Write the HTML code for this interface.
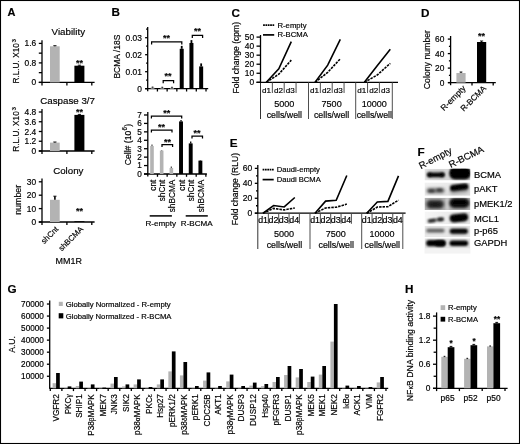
<!DOCTYPE html>
<html lang="en"><head><meta charset="utf-8"><title>Figure</title>
<style>html,body{margin:0;padding:0;background:#fff;}svg{display:block;}text{font-family:"Liberation Sans", sans-serif;fill:#000;stroke:#000;stroke-width:0.18px;}</style></head><body>
<svg width="520" height="444" viewBox="0 0 520 444">
<defs><filter id="b1" x="-30%" y="-60%" width="160%" height="220%"><feGaussianBlur stdDeviation="1.1"/></filter><filter id="b2" x="-30%" y="-60%" width="160%" height="220%"><feGaussianBlur stdDeviation="1.6"/></filter><filter id="b3" x="-30%" y="-60%" width="160%" height="220%"><feGaussianBlur stdDeviation="0.7"/></filter><filter id="b5" x="-5%" y="-5%" width="110%" height="110%"><feGaussianBlur stdDeviation="0.45"/></filter><filter id="b4" x="-30%" y="-60%" width="160%" height="220%"><feGaussianBlur stdDeviation="0.85"/></filter></defs>
<rect x="0.00" y="0.00" width="520.00" height="444.00" fill="#fff" />
<rect x="0.5" y="0.5" width="519" height="443" fill="none" stroke="#000" stroke-width="1.1"/>
<text transform="translate(7.40 16.20) scale(0.94 1)" font-size="11.7" text-anchor="start" font-weight="bold" stroke-width="0">A</text>
<text transform="translate(111.60 16.30)" font-size="11.7" text-anchor="start" font-weight="bold" stroke-width="0">B</text>
<text transform="translate(231.60 16.50)" font-size="11.7" text-anchor="start" font-weight="bold" stroke-width="0">C</text>
<text transform="translate(421.10 16.50)" font-size="11.7" text-anchor="start" font-weight="bold" stroke-width="0">D</text>
<text transform="translate(229.70 147.20)" font-size="11.7" text-anchor="start" font-weight="bold" stroke-width="0">E</text>
<text transform="translate(417.60 155.60)" font-size="11.7" text-anchor="start" font-weight="bold" stroke-width="0">F</text>
<text transform="translate(7.40 293.10)" font-size="11.7" text-anchor="start" font-weight="bold" stroke-width="0">G</text>
<text transform="translate(405.10 293.10)" font-size="11.7" text-anchor="start" font-weight="bold" stroke-width="0">H</text>
<text transform="translate(68.30 35.00) scale(0.985 1)" font-size="9.9" text-anchor="middle" font-weight="normal" >Viability</text>
<line x1="42.00" y1="40.20" x2="42.00" y2="85.40" stroke="#000" stroke-width="1.3" />
<line x1="38.80" y1="82.40" x2="94.60" y2="82.40" stroke="#000" stroke-width="1.3" />
<line x1="38.80" y1="43.40" x2="42.00" y2="43.40" stroke="#000" stroke-width="1.3" />
<text transform="translate(36.20 46.40)" font-size="8.4" text-anchor="end" font-weight="normal" >1.6</text>
<line x1="38.80" y1="53.15" x2="42.00" y2="53.15" stroke="#000" stroke-width="1.3" />
<line x1="38.80" y1="62.90" x2="42.00" y2="62.90" stroke="#000" stroke-width="1.3" />
<text transform="translate(36.20 65.90)" font-size="8.4" text-anchor="end" font-weight="normal" >0.8</text>
<line x1="38.80" y1="72.65" x2="42.00" y2="72.65" stroke="#000" stroke-width="1.3" />
<line x1="38.80" y1="82.40" x2="42.00" y2="82.40" stroke="#000" stroke-width="1.3" />
<text transform="translate(36.20 85.40)" font-size="8.4" text-anchor="end" font-weight="normal" >0</text>
<line x1="66.90" y1="82.40" x2="66.90" y2="85.40" stroke="#000" stroke-width="1.3" />
<line x1="91.80" y1="82.40" x2="91.80" y2="85.40" stroke="#000" stroke-width="1.3" />
<rect x="50.00" y="46.30" width="9.70" height="36.10" fill="#b3b3b3" />
<rect x="74.40" y="65.70" width="10.00" height="16.70" fill="#000" />
<line x1="54.90" y1="46.30" x2="54.90" y2="45.70" stroke="#000" stroke-width="1" />
<line x1="53.30" y1="45.70" x2="56.50" y2="45.70" stroke="#000" stroke-width="0.9" />
<line x1="79.40" y1="65.70" x2="79.40" y2="65.20" stroke="#000" stroke-width="1" />
<line x1="77.80" y1="65.20" x2="81.00" y2="65.20" stroke="#000" stroke-width="0.9" />
<text transform="translate(79.60 66.08)" font-size="9" text-anchor="middle" font-weight="bold" stroke="#000" stroke-width="0.35">**</text>
<text transform="translate(19.20 83.60) rotate(-90) scale(0.847 1)" font-size="9.8" text-anchor="start" font-weight="normal" >R.L.U. X10</text>
<text transform="translate(15.50 42.40) rotate(-90)" font-size="6.2" text-anchor="start" font-weight="normal" >3</text>
<text transform="translate(67.60 103.80) scale(0.985 1)" font-size="9.9" text-anchor="middle" font-weight="normal" >Caspase 3/7</text>
<line x1="42.00" y1="109.00" x2="42.00" y2="154.00" stroke="#000" stroke-width="1.3" />
<line x1="38.80" y1="151.00" x2="94.60" y2="151.00" stroke="#000" stroke-width="1.3" />
<line x1="38.80" y1="112.00" x2="42.00" y2="112.00" stroke="#000" stroke-width="1.3" />
<text transform="translate(36.20 115.00)" font-size="8.4" text-anchor="end" font-weight="normal" >4.8</text>
<line x1="38.80" y1="121.75" x2="42.00" y2="121.75" stroke="#000" stroke-width="1.3" />
<text transform="translate(36.20 124.75)" font-size="8.4" text-anchor="end" font-weight="normal" >3.6</text>
<line x1="38.80" y1="131.50" x2="42.00" y2="131.50" stroke="#000" stroke-width="1.3" />
<text transform="translate(36.20 134.50)" font-size="8.4" text-anchor="end" font-weight="normal" >2.4</text>
<line x1="38.80" y1="141.25" x2="42.00" y2="141.25" stroke="#000" stroke-width="1.3" />
<text transform="translate(36.20 144.25)" font-size="8.4" text-anchor="end" font-weight="normal" >1.2</text>
<line x1="38.80" y1="151.00" x2="42.00" y2="151.00" stroke="#000" stroke-width="1.3" />
<text transform="translate(36.20 154.00)" font-size="8.4" text-anchor="end" font-weight="normal" >0</text>
<line x1="66.90" y1="151.00" x2="66.90" y2="154.00" stroke="#000" stroke-width="1.3" />
<line x1="91.80" y1="151.00" x2="91.80" y2="154.00" stroke="#000" stroke-width="1.3" />
<rect x="50.00" y="142.60" width="9.70" height="8.40" fill="#b3b3b3" />
<rect x="74.40" y="114.90" width="10.00" height="36.10" fill="#000" />
<line x1="54.90" y1="142.60" x2="54.90" y2="142.00" stroke="#000" stroke-width="1" />
<line x1="53.30" y1="142.00" x2="56.50" y2="142.00" stroke="#000" stroke-width="0.9" />
<line x1="79.40" y1="114.90" x2="79.40" y2="114.40" stroke="#000" stroke-width="1" />
<line x1="77.80" y1="114.40" x2="81.00" y2="114.40" stroke="#000" stroke-width="0.9" />
<text transform="translate(79.60 114.78)" font-size="9" text-anchor="middle" font-weight="bold" stroke="#000" stroke-width="0.35">**</text>
<text transform="translate(19.20 151.80) rotate(-90) scale(0.847 1)" font-size="9.8" text-anchor="start" font-weight="normal" >R.L.U. X10</text>
<text transform="translate(15.50 110.60) rotate(-90)" font-size="6.2" text-anchor="start" font-weight="normal" >3</text>
<text transform="translate(68.30 173.50) scale(0.985 1)" font-size="9.9" text-anchor="middle" font-weight="normal" >Colony</text>
<line x1="42.00" y1="178.50" x2="42.00" y2="225.00" stroke="#000" stroke-width="1.3" />
<line x1="38.80" y1="222.00" x2="94.60" y2="222.00" stroke="#000" stroke-width="1.3" />
<line x1="38.80" y1="181.80" x2="42.00" y2="181.80" stroke="#000" stroke-width="1.3" />
<text transform="translate(36.20 184.80)" font-size="8.4" text-anchor="end" font-weight="normal" >30</text>
<line x1="38.80" y1="195.20" x2="42.00" y2="195.20" stroke="#000" stroke-width="1.3" />
<text transform="translate(36.20 198.20)" font-size="8.4" text-anchor="end" font-weight="normal" >20</text>
<line x1="38.80" y1="208.60" x2="42.00" y2="208.60" stroke="#000" stroke-width="1.3" />
<text transform="translate(36.20 211.60)" font-size="8.4" text-anchor="end" font-weight="normal" >10</text>
<line x1="38.80" y1="222.00" x2="42.00" y2="222.00" stroke="#000" stroke-width="1.3" />
<text transform="translate(36.20 225.00)" font-size="8.4" text-anchor="end" font-weight="normal" >0</text>
<line x1="66.90" y1="222.00" x2="66.90" y2="225.00" stroke="#000" stroke-width="1.3" />
<line x1="91.80" y1="222.00" x2="91.80" y2="225.00" stroke="#000" stroke-width="1.3" />
<rect x="50.00" y="199.80" width="9.70" height="22.20" fill="#b3b3b3" />
<rect x="74.40" y="221.20" width="10.00" height="0.80" fill="#000" />
<line x1="54.90" y1="199.80" x2="54.90" y2="196.20" stroke="#000" stroke-width="1.6" />
<line x1="53.30" y1="196.20" x2="56.50" y2="196.20" stroke="#000" stroke-width="0.9" />
<text transform="translate(79.60 214.49)" font-size="9" text-anchor="middle" font-weight="bold" stroke="#000" stroke-width="0.35">**</text>
<text transform="translate(20.80 214.80) rotate(-90) scale(0.9413 1)" font-size="9.4" text-anchor="start" font-weight="normal" >number</text>
<text transform="translate(58.90 229.60) rotate(-45)" font-size="7.9" text-anchor="end" font-weight="normal" >shCnt</text>
<text transform="translate(83.70 229.60) rotate(-45)" font-size="7.9" text-anchor="end" font-weight="normal" >shBCMA</text>
<text transform="translate(68.70 264.10) scale(0.9438 1)" font-size="9.5" text-anchor="middle" font-weight="normal" >MM1R</text>
<line x1="147.70" y1="27.00" x2="147.70" y2="91.30" stroke="#000" stroke-width="1.3" />
<line x1="145.10" y1="88.70" x2="208.20" y2="88.70" stroke="#000" stroke-width="1.3" />
<line x1="145.10" y1="88.70" x2="147.70" y2="88.70" stroke="#000" stroke-width="1.3" />
<line x1="146.10" y1="80.20" x2="147.70" y2="80.20" stroke="#000" stroke-width="1.3" />
<line x1="145.10" y1="71.70" x2="147.70" y2="71.70" stroke="#000" stroke-width="1.3" />
<line x1="146.10" y1="63.20" x2="147.70" y2="63.20" stroke="#000" stroke-width="1.3" />
<line x1="145.10" y1="54.70" x2="147.70" y2="54.70" stroke="#000" stroke-width="1.3" />
<line x1="146.10" y1="46.20" x2="147.70" y2="46.20" stroke="#000" stroke-width="1.3" />
<line x1="145.10" y1="37.70" x2="147.70" y2="37.70" stroke="#000" stroke-width="1.3" />
<line x1="146.10" y1="29.20" x2="147.70" y2="29.20" stroke="#000" stroke-width="1.3" />
<text transform="translate(141.80 91.70)" font-size="8.4" text-anchor="end" font-weight="normal" >0</text>
<text transform="translate(141.80 74.70)" font-size="8.4" text-anchor="end" font-weight="normal" >0.01</text>
<text transform="translate(141.80 57.70)" font-size="8.4" text-anchor="end" font-weight="normal" >0.02</text>
<text transform="translate(141.80 40.70)" font-size="8.4" text-anchor="end" font-weight="normal" >0.03</text>
<line x1="157.42" y1="88.70" x2="157.42" y2="91.50" stroke="#000" stroke-width="1.3" />
<line x1="167.14" y1="88.70" x2="167.14" y2="91.50" stroke="#000" stroke-width="1.3" />
<line x1="176.86" y1="88.70" x2="176.86" y2="91.50" stroke="#000" stroke-width="1.3" />
<line x1="186.58" y1="88.70" x2="186.58" y2="91.50" stroke="#000" stroke-width="1.3" />
<line x1="196.30" y1="88.70" x2="196.30" y2="91.50" stroke="#000" stroke-width="1.3" />
<line x1="206.02" y1="88.70" x2="206.02" y2="91.50" stroke="#000" stroke-width="1.3" />
<rect x="150.66" y="87.50" width="3.80" height="1.20" fill="#b3b3b3" />
<line x1="152.56" y1="87.90" x2="152.56" y2="86.50" stroke="#3a3a3a" stroke-width="1.7" />
<rect x="160.38" y="87.70" width="3.80" height="1.00" fill="#b3b3b3" />
<line x1="162.28" y1="88.10" x2="162.28" y2="86.70" stroke="#3a3a3a" stroke-width="1.7" />
<rect x="170.10" y="87.80" width="3.80" height="0.90" fill="#b3b3b3" />
<line x1="172.00" y1="88.20" x2="172.00" y2="86.80" stroke="#3a3a3a" stroke-width="1.7" />
<rect x="179.72" y="48.80" width="4.00" height="39.90" fill="#000" />
<line x1="181.72" y1="48.80" x2="181.72" y2="45.90" stroke="#000" stroke-width="1.8" />
<rect x="189.44" y="43.00" width="4.00" height="45.70" fill="#000" />
<line x1="191.44" y1="43.00" x2="191.44" y2="40.10" stroke="#000" stroke-width="1.8" />
<rect x="199.16" y="66.40" width="4.00" height="22.30" fill="#000" />
<line x1="201.16" y1="66.40" x2="201.16" y2="63.40" stroke="#000" stroke-width="1.8" />
<path d="M151.60 44.40 V41.90 H181.80 V44.40" fill="none" stroke="#000" stroke-width="1.25"/>
<text transform="translate(166.60 41.19)" font-size="9" text-anchor="middle" font-weight="bold" stroke="#000" stroke-width="0.35">**</text>
<path d="M163.20 83.20 V80.70 H173.60 V83.20" fill="none" stroke="#000" stroke-width="1.25"/>
<text transform="translate(168.00 79.39)" font-size="9" text-anchor="middle" font-weight="bold" stroke="#000" stroke-width="0.35">**</text>
<path d="M192.30 37.90 V35.40 H202.60 V37.90" fill="none" stroke="#000" stroke-width="1.25"/>
<text transform="translate(197.40 34.38)" font-size="9" text-anchor="middle" font-weight="bold" stroke="#000" stroke-width="0.35">**</text>
<text transform="translate(119.80 78.60) rotate(-90) scale(0.9564 1)" font-size="8.9" text-anchor="start" font-weight="normal" >BCMA /18S</text>
<line x1="147.80" y1="112.00" x2="147.80" y2="176.60" stroke="#000" stroke-width="1.3" />
<line x1="144.00" y1="174.00" x2="206.90" y2="174.00" stroke="#000" stroke-width="1.3" />
<line x1="144.00" y1="174.00" x2="147.80" y2="174.00" stroke="#000" stroke-width="1.3" />
<text transform="translate(141.70 176.90)" font-size="8.2" text-anchor="end" font-weight="normal" >0</text>
<line x1="144.00" y1="165.57" x2="147.80" y2="165.57" stroke="#000" stroke-width="1.3" />
<text transform="translate(141.70 168.47)" font-size="8.2" text-anchor="end" font-weight="normal" >1</text>
<line x1="144.00" y1="157.14" x2="147.80" y2="157.14" stroke="#000" stroke-width="1.3" />
<text transform="translate(141.70 160.04)" font-size="8.2" text-anchor="end" font-weight="normal" >2</text>
<line x1="144.00" y1="148.71" x2="147.80" y2="148.71" stroke="#000" stroke-width="1.3" />
<text transform="translate(141.70 151.61)" font-size="8.2" text-anchor="end" font-weight="normal" >3</text>
<line x1="144.00" y1="140.28" x2="147.80" y2="140.28" stroke="#000" stroke-width="1.3" />
<text transform="translate(141.70 143.18)" font-size="8.2" text-anchor="end" font-weight="normal" >4</text>
<line x1="144.00" y1="131.85" x2="147.80" y2="131.85" stroke="#000" stroke-width="1.3" />
<text transform="translate(141.70 134.75)" font-size="8.2" text-anchor="end" font-weight="normal" >5</text>
<line x1="144.00" y1="123.42" x2="147.80" y2="123.42" stroke="#000" stroke-width="1.3" />
<text transform="translate(141.70 126.32)" font-size="8.2" text-anchor="end" font-weight="normal" >6</text>
<line x1="144.00" y1="114.99" x2="147.80" y2="114.99" stroke="#000" stroke-width="1.3" />
<text transform="translate(141.70 117.89)" font-size="8.2" text-anchor="end" font-weight="normal" >7</text>
<line x1="157.48" y1="174.00" x2="157.48" y2="176.80" stroke="#000" stroke-width="1.3" />
<line x1="167.16" y1="174.00" x2="167.16" y2="176.80" stroke="#000" stroke-width="1.3" />
<line x1="176.84" y1="174.00" x2="176.84" y2="176.80" stroke="#000" stroke-width="1.3" />
<line x1="186.52" y1="174.00" x2="186.52" y2="176.80" stroke="#000" stroke-width="1.3" />
<line x1="196.20" y1="174.00" x2="196.20" y2="176.80" stroke="#000" stroke-width="1.3" />
<line x1="205.88" y1="174.00" x2="205.88" y2="176.80" stroke="#000" stroke-width="1.3" />
<rect x="150.19" y="146.00" width="3.60" height="28.00" fill="#b3b3b3" />
<line x1="151.99" y1="146.00" x2="151.99" y2="144.50" stroke="#555" stroke-width="1.3" />
<rect x="159.87" y="150.60" width="3.60" height="23.40" fill="#b3b3b3" />
<line x1="161.67" y1="150.60" x2="161.67" y2="150.00" stroke="#555" stroke-width="1.3" />
<rect x="169.55" y="168.00" width="3.60" height="6.00" fill="#b3b3b3" />
<line x1="171.35" y1="168.00" x2="171.35" y2="166.40" stroke="#555" stroke-width="1.3" />
<rect x="179.08" y="121.40" width="3.90" height="52.60" fill="#000" />
<line x1="181.03" y1="121.40" x2="181.03" y2="120.00" stroke="#000" stroke-width="1.3" />
<rect x="188.76" y="143.40" width="3.90" height="30.60" fill="#000" />
<line x1="190.71" y1="143.40" x2="190.71" y2="141.40" stroke="#000" stroke-width="1.3" />
<rect x="198.44" y="160.60" width="3.90" height="13.40" fill="#000" />
<line x1="200.39" y1="160.60" x2="200.39" y2="160.20" stroke="#000" stroke-width="1.3" />
<path d="M151.40 118.50 V116.00 H181.70 V118.50" fill="none" stroke="#000" stroke-width="1.25"/>
<text transform="translate(166.80 115.78)" font-size="9" text-anchor="middle" font-weight="bold" stroke="#000" stroke-width="0.35">**</text>
<path d="M151.40 132.50 V130.00 H172.00 V132.50" fill="none" stroke="#000" stroke-width="1.25"/>
<text transform="translate(161.40 129.98)" font-size="9" text-anchor="middle" font-weight="bold" stroke="#000" stroke-width="0.35">**</text>
<path d="M162.00 147.10 V144.60 H172.60 V147.10" fill="none" stroke="#000" stroke-width="1.25"/>
<text transform="translate(167.60 145.19)" font-size="9" text-anchor="middle" font-weight="bold" stroke="#000" stroke-width="0.35">**</text>
<path d="M192.00 138.50 V136.00 H202.50 V138.50" fill="none" stroke="#000" stroke-width="1.25"/>
<text transform="translate(197.00 136.38)" font-size="9" text-anchor="middle" font-weight="bold" stroke="#000" stroke-width="0.35">**</text>
<text transform="translate(131.30 165.30) rotate(-90) scale(0.9296 1)" font-size="9.3" text-anchor="start" font-weight="normal" >Cell# (10</text>
<text transform="translate(127.30 130.60) rotate(-90)" font-size="6.3" text-anchor="start" font-weight="normal" >6</text>
<text transform="translate(131.30 126.70) rotate(-90) scale(0.9296 1)" font-size="9.3" text-anchor="start" font-weight="normal" >)</text>
<text transform="translate(155.64 179.60) rotate(-90)" font-size="8.3" text-anchor="end" font-weight="normal" >cnt</text>
<text transform="translate(165.32 179.60) rotate(-90)" font-size="8.3" text-anchor="end" font-weight="normal" >shCnt</text>
<text transform="translate(175.00 179.60) rotate(-90)" font-size="8.3" text-anchor="end" font-weight="normal" >shBCMA</text>
<text transform="translate(184.68 179.60) rotate(-90)" font-size="8.3" text-anchor="end" font-weight="normal" >cnt</text>
<text transform="translate(194.36 179.60) rotate(-90)" font-size="8.3" text-anchor="end" font-weight="normal" >shCnt</text>
<text transform="translate(204.04 179.60) rotate(-90)" font-size="8.3" text-anchor="end" font-weight="normal" >shBCMA</text>
<line x1="149.70" y1="215.90" x2="171.90" y2="215.90" stroke="#000" stroke-width="1.5" />
<line x1="185.70" y1="215.90" x2="207.80" y2="215.90" stroke="#000" stroke-width="1.5" />
<text transform="translate(160.80 226.20)" font-size="8.1" text-anchor="middle" font-weight="normal" >R-empty</text>
<text transform="translate(196.80 226.20)" font-size="8.1" text-anchor="middle" font-weight="normal" >R-BCMA</text>
<line x1="260.50" y1="35.00" x2="260.50" y2="82.30" stroke="#000" stroke-width="1.3" />
<line x1="260.50" y1="82.30" x2="260.50" y2="119.00" stroke="#333" stroke-width="1.0" />
<line x1="256.50" y1="82.30" x2="398.00" y2="82.30" stroke="#000" stroke-width="1.3" />
<line x1="256.50" y1="82.30" x2="260.50" y2="82.30" stroke="#000" stroke-width="1.3" />
<text transform="translate(254.10 85.30)" font-size="8.4" text-anchor="end" font-weight="normal" >0</text>
<line x1="256.50" y1="73.26" x2="260.50" y2="73.26" stroke="#000" stroke-width="1.3" />
<text transform="translate(254.10 76.26)" font-size="8.4" text-anchor="end" font-weight="normal" >10</text>
<line x1="256.50" y1="64.22" x2="260.50" y2="64.22" stroke="#000" stroke-width="1.3" />
<text transform="translate(254.10 67.22)" font-size="8.4" text-anchor="end" font-weight="normal" >20</text>
<line x1="256.50" y1="55.18" x2="260.50" y2="55.18" stroke="#000" stroke-width="1.3" />
<text transform="translate(254.10 58.18)" font-size="8.4" text-anchor="end" font-weight="normal" >30</text>
<line x1="256.50" y1="46.14" x2="260.50" y2="46.14" stroke="#000" stroke-width="1.3" />
<text transform="translate(254.10 49.14)" font-size="8.4" text-anchor="end" font-weight="normal" >40</text>
<line x1="256.50" y1="37.10" x2="260.50" y2="37.10" stroke="#000" stroke-width="1.3" />
<text transform="translate(254.10 40.10)" font-size="8.4" text-anchor="end" font-weight="normal" >50</text>
<line x1="272.35" y1="82.30" x2="272.35" y2="93.00" stroke="#444" stroke-width="0.95" />
<line x1="284.20" y1="82.30" x2="284.20" y2="93.00" stroke="#444" stroke-width="0.95" />
<line x1="296.05" y1="82.30" x2="296.05" y2="93.00" stroke="#444" stroke-width="0.95" />
<text transform="translate(266.62 92.50)" font-size="8.1" text-anchor="middle" font-weight="normal" >d1</text>
<text transform="translate(278.48 92.50)" font-size="8.1" text-anchor="middle" font-weight="normal" >d2</text>
<text transform="translate(290.32 92.50)" font-size="8.1" text-anchor="middle" font-weight="normal" >d3</text>
<polyline points="266.30,82.30 278.80,68.74 291.30,41.62" fill="none" stroke="#000" stroke-width="1.6" stroke-linejoin="miter"/>
<polyline points="266.30,82.30 278.80,74.16 291.30,60.15" fill="none" stroke="#000" stroke-width="1.6" stroke-linejoin="miter" stroke-dasharray="2.5 1.0"/>
<text transform="translate(284.30 106.50) scale(0.9361 1)" font-size="9.7" text-anchor="middle" font-weight="normal" >5000</text>
<text transform="translate(284.30 117.60) scale(1.0054 1)" font-size="8.8" text-anchor="middle" font-weight="normal" >cells/well</text>
<line x1="308.50" y1="82.30" x2="308.50" y2="119.00" stroke="#444" stroke-width="0.95" />
<line x1="320.35" y1="82.30" x2="320.35" y2="93.00" stroke="#444" stroke-width="0.95" />
<line x1="332.20" y1="82.30" x2="332.20" y2="93.00" stroke="#444" stroke-width="0.95" />
<line x1="344.05" y1="82.30" x2="344.05" y2="93.00" stroke="#444" stroke-width="0.95" />
<text transform="translate(314.62 92.50)" font-size="8.1" text-anchor="middle" font-weight="normal" >d1</text>
<text transform="translate(326.48 92.50)" font-size="8.1" text-anchor="middle" font-weight="normal" >d2</text>
<text transform="translate(338.32 92.50)" font-size="8.1" text-anchor="middle" font-weight="normal" >d3</text>
<polyline points="315.10,82.30 327.70,65.12 340.30,39.36" fill="none" stroke="#000" stroke-width="1.6" stroke-linejoin="miter"/>
<polyline points="315.10,82.30 327.70,72.36 340.30,58.80" fill="none" stroke="#000" stroke-width="1.6" stroke-linejoin="miter" stroke-dasharray="2.5 1.0"/>
<text transform="translate(331.60 106.50) scale(0.9361 1)" font-size="9.7" text-anchor="middle" font-weight="normal" >7500</text>
<text transform="translate(331.60 117.60) scale(1.0054 1)" font-size="8.8" text-anchor="middle" font-weight="normal" >cells/well</text>
<line x1="355.70" y1="82.30" x2="355.70" y2="119.00" stroke="#444" stroke-width="0.95" />
<line x1="367.55" y1="82.30" x2="367.55" y2="93.00" stroke="#444" stroke-width="0.95" />
<line x1="379.40" y1="82.30" x2="379.40" y2="93.00" stroke="#444" stroke-width="0.95" />
<text transform="translate(361.82 92.50)" font-size="8.1" text-anchor="middle" font-weight="normal" >d1</text>
<text transform="translate(373.68 92.50)" font-size="8.1" text-anchor="middle" font-weight="normal" >d2</text>
<text transform="translate(385.52 92.50)" font-size="8.1" text-anchor="middle" font-weight="normal" >d3</text>
<polyline points="364.40,82.30 377.20,65.85 390.30,49.30" fill="none" stroke="#000" stroke-width="1.6" stroke-linejoin="miter"/>
<polyline points="364.40,82.30 377.20,75.07 390.30,63.32" fill="none" stroke="#000" stroke-width="1.6" stroke-linejoin="miter" stroke-dasharray="2.5 1.0"/>
<text transform="translate(374.30 106.50) scale(0.9342 1)" font-size="9.7" text-anchor="middle" font-weight="normal" >10000</text>
<text transform="translate(374.30 117.60) scale(1.0054 1)" font-size="8.8" text-anchor="middle" font-weight="normal" >cells/well</text>
<line x1="392.30" y1="82.30" x2="392.30" y2="119.00" stroke="#444" stroke-width="0.95" />
<line x1="263.10" y1="25.10" x2="274.20" y2="25.10" stroke="#000" stroke-width="1.7" stroke-dasharray="1.75 0.6"/>
<line x1="263.00" y1="34.90" x2="274.20" y2="34.90" stroke="#000" stroke-width="1.7" />
<text transform="translate(277.50 27.70)" font-size="7.7" text-anchor="start" font-weight="normal" >R-empty</text>
<text transform="translate(277.50 37.30)" font-size="7.7" text-anchor="start" font-weight="normal" >R-BCMA</text>
<text transform="translate(239.40 93.40) rotate(-90) scale(0.8946 1)" font-size="9.6" text-anchor="start" font-weight="normal" >Fold change (cpm)</text>
<line x1="257.80" y1="165.00" x2="257.80" y2="213.20" stroke="#000" stroke-width="1.3" />
<line x1="257.80" y1="213.20" x2="257.80" y2="249.00" stroke="#333" stroke-width="1.0" />
<line x1="254.80" y1="213.20" x2="405.60" y2="213.20" stroke="#000" stroke-width="1.3" />
<line x1="254.80" y1="213.20" x2="257.80" y2="213.20" stroke="#000" stroke-width="1.3" />
<text transform="translate(252.20 216.20)" font-size="8.5" text-anchor="end" font-weight="normal" >0</text>
<line x1="256.00" y1="205.73" x2="257.80" y2="205.73" stroke="#000" stroke-width="1.3" />
<line x1="254.80" y1="198.26" x2="257.80" y2="198.26" stroke="#000" stroke-width="1.3" />
<text transform="translate(252.20 201.26)" font-size="8.5" text-anchor="end" font-weight="normal" >20</text>
<line x1="256.00" y1="190.79" x2="257.80" y2="190.79" stroke="#000" stroke-width="1.3" />
<line x1="254.80" y1="183.32" x2="257.80" y2="183.32" stroke="#000" stroke-width="1.3" />
<text transform="translate(252.20 186.32)" font-size="8.5" text-anchor="end" font-weight="normal" >40</text>
<line x1="256.00" y1="175.85" x2="257.80" y2="175.85" stroke="#000" stroke-width="1.3" />
<line x1="254.80" y1="168.38" x2="257.80" y2="168.38" stroke="#000" stroke-width="1.3" />
<text transform="translate(252.20 171.38)" font-size="8.5" text-anchor="end" font-weight="normal" >60</text>
<line x1="268.35" y1="213.20" x2="268.35" y2="223.80" stroke="#444" stroke-width="0.95" />
<line x1="278.70" y1="213.20" x2="278.70" y2="223.80" stroke="#444" stroke-width="0.95" />
<line x1="289.05" y1="213.20" x2="289.05" y2="223.80" stroke="#444" stroke-width="0.95" />
<line x1="299.40" y1="213.20" x2="299.40" y2="223.80" stroke="#444" stroke-width="0.95" />
<text transform="translate(263.07 223.40) scale(1.07 1)" font-size="8.3" text-anchor="middle" font-weight="normal" >d1</text>
<text transform="translate(273.43 223.40) scale(1.07 1)" font-size="8.3" text-anchor="middle" font-weight="normal" >d2</text>
<text transform="translate(283.77 223.40) scale(1.07 1)" font-size="8.3" text-anchor="middle" font-weight="normal" >d3</text>
<text transform="translate(294.12 223.40) scale(1.07 1)" font-size="8.3" text-anchor="middle" font-weight="normal" >d4</text>
<polyline points="263.00,213.20 273.60,205.51 284.20,206.93 294.80,197.51" fill="none" stroke="#000" stroke-width="1.6" stroke-linejoin="miter"/>
<polyline points="263.00,213.20 273.60,208.42 284.20,209.91 294.80,207.97" fill="none" stroke="#000" stroke-width="1.6" stroke-linejoin="miter" stroke-dasharray="2.5 1.0"/>
<text transform="translate(284.00 237.00) scale(0.9558 1)" font-size="9.5" text-anchor="middle" font-weight="normal" >5000</text>
<text transform="translate(284.40 248.40) scale(1.0111 1)" font-size="8.8" text-anchor="middle" font-weight="normal" >cells/well</text>
<line x1="310.00" y1="213.20" x2="310.00" y2="249.00" stroke="#444" stroke-width="0.95" />
<line x1="320.35" y1="213.20" x2="320.35" y2="223.80" stroke="#444" stroke-width="0.95" />
<line x1="330.70" y1="213.20" x2="330.70" y2="223.80" stroke="#444" stroke-width="0.95" />
<line x1="341.05" y1="213.20" x2="341.05" y2="223.80" stroke="#444" stroke-width="0.95" />
<line x1="351.40" y1="213.20" x2="351.40" y2="223.80" stroke="#444" stroke-width="0.95" />
<text transform="translate(315.07 223.40) scale(1.07 1)" font-size="8.3" text-anchor="middle" font-weight="normal" >d1</text>
<text transform="translate(325.43 223.40) scale(1.07 1)" font-size="8.3" text-anchor="middle" font-weight="normal" >d2</text>
<text transform="translate(335.77 223.40) scale(1.07 1)" font-size="8.3" text-anchor="middle" font-weight="normal" >d3</text>
<text transform="translate(346.12 223.40) scale(1.07 1)" font-size="8.3" text-anchor="middle" font-weight="normal" >d4</text>
<polyline points="315.00,213.20 325.60,201.10 336.20,200.20 346.80,175.48" fill="none" stroke="#000" stroke-width="1.6" stroke-linejoin="miter"/>
<polyline points="315.00,213.20 325.60,207.97 336.20,207.22 346.80,204.09" fill="none" stroke="#000" stroke-width="1.6" stroke-linejoin="miter" stroke-dasharray="2.5 1.0"/>
<text transform="translate(335.80 237.00) scale(0.9558 1)" font-size="9.5" text-anchor="middle" font-weight="normal" >7500</text>
<text transform="translate(336.20 248.40) scale(1.0111 1)" font-size="8.8" text-anchor="middle" font-weight="normal" >cells/well</text>
<line x1="361.70" y1="213.20" x2="361.70" y2="249.00" stroke="#444" stroke-width="0.95" />
<line x1="372.05" y1="213.20" x2="372.05" y2="223.80" stroke="#444" stroke-width="0.95" />
<line x1="382.40" y1="213.20" x2="382.40" y2="223.80" stroke="#444" stroke-width="0.95" />
<line x1="392.75" y1="213.20" x2="392.75" y2="223.80" stroke="#444" stroke-width="0.95" />
<text transform="translate(366.77 223.40) scale(1.07 1)" font-size="8.3" text-anchor="middle" font-weight="normal" >d1</text>
<text transform="translate(377.12 223.40) scale(1.07 1)" font-size="8.3" text-anchor="middle" font-weight="normal" >d2</text>
<text transform="translate(387.47 223.40) scale(1.07 1)" font-size="8.3" text-anchor="middle" font-weight="normal" >d3</text>
<text transform="translate(397.82 223.40) scale(1.07 1)" font-size="8.3" text-anchor="middle" font-weight="normal" >d4</text>
<polyline points="366.70,213.20 377.30,201.99 387.90,201.40 398.50,175.85" fill="none" stroke="#000" stroke-width="1.6" stroke-linejoin="miter"/>
<polyline points="366.70,213.20 377.30,207.07 387.90,206.70 398.50,200.13" fill="none" stroke="#000" stroke-width="1.6" stroke-linejoin="miter" stroke-dasharray="2.5 1.0"/>
<text transform="translate(381.90 237.00) scale(0.9463 1)" font-size="9.5" text-anchor="middle" font-weight="normal" >10000</text>
<text transform="translate(382.30 248.40) scale(1.0111 1)" font-size="8.8" text-anchor="middle" font-weight="normal" >cells/well</text>
<line x1="402.80" y1="213.20" x2="402.80" y2="249.00" stroke="#444" stroke-width="0.95" />
<line x1="262.60" y1="169.70" x2="273.70" y2="169.70" stroke="#000" stroke-width="1.7" stroke-dasharray="1.75 0.6"/>
<line x1="262.60" y1="179.60" x2="273.70" y2="179.60" stroke="#000" stroke-width="1.7" />
<text transform="translate(276.80 172.00)" font-size="7.6" text-anchor="start" font-weight="normal" >Daudi-empty</text>
<text transform="translate(276.80 182.00)" font-size="7.6" text-anchor="start" font-weight="normal" >Daudi BCMA</text>
<text transform="translate(237.70 225.20) rotate(-90) scale(0.8927 1)" font-size="9.6" text-anchor="start" font-weight="normal" >Fold change (RLU)</text>
<line x1="450.60" y1="36.00" x2="450.60" y2="85.20" stroke="#000" stroke-width="1.3" />
<line x1="448.00" y1="82.60" x2="495.80" y2="82.60" stroke="#000" stroke-width="1.3" />
<line x1="447.80" y1="82.60" x2="450.60" y2="82.60" stroke="#000" stroke-width="1.3" />
<text transform="translate(444.40 85.70)" font-size="8.4" text-anchor="end" font-weight="normal" >0</text>
<line x1="448.90" y1="75.35" x2="450.60" y2="75.35" stroke="#000" stroke-width="1.3" />
<line x1="447.80" y1="68.10" x2="450.60" y2="68.10" stroke="#000" stroke-width="1.3" />
<text transform="translate(444.40 71.20)" font-size="8.4" text-anchor="end" font-weight="normal" >20</text>
<line x1="448.90" y1="60.85" x2="450.60" y2="60.85" stroke="#000" stroke-width="1.3" />
<line x1="447.80" y1="53.60" x2="450.60" y2="53.60" stroke="#000" stroke-width="1.3" />
<text transform="translate(444.40 56.70)" font-size="8.4" text-anchor="end" font-weight="normal" >40</text>
<line x1="448.90" y1="46.35" x2="450.60" y2="46.35" stroke="#000" stroke-width="1.3" />
<line x1="447.80" y1="39.10" x2="450.60" y2="39.10" stroke="#000" stroke-width="1.3" />
<text transform="translate(444.40 42.20)" font-size="8.4" text-anchor="end" font-weight="normal" >60</text>
<line x1="472.00" y1="82.60" x2="472.00" y2="85.40" stroke="#000" stroke-width="1.3" />
<line x1="493.20" y1="82.60" x2="493.20" y2="85.40" stroke="#000" stroke-width="1.3" />
<rect x="456.40" y="73.00" width="9.20" height="9.60" fill="#b3b3b3" />
<rect x="477.00" y="42.00" width="9.20" height="40.60" fill="#000" />
<line x1="461.00" y1="73.00" x2="461.00" y2="72.00" stroke="#000" stroke-width="1" />
<line x1="459.60" y1="72.00" x2="462.40" y2="72.00" stroke="#000" stroke-width="0.9" />
<line x1="481.60" y1="42.00" x2="481.60" y2="41.00" stroke="#000" stroke-width="1" />
<line x1="480.00" y1="41.00" x2="483.20" y2="41.00" stroke="#000" stroke-width="0.9" />
<text transform="translate(481.40 39.39)" font-size="9" text-anchor="middle" font-weight="bold" stroke="#000" stroke-width="0.35">**</text>
<text transform="translate(430.10 89.20) rotate(-90) scale(0.9303 1)" font-size="9.4" text-anchor="start" font-weight="normal" >Colony number</text>
<text transform="translate(466.30 88.80) rotate(-45)" font-size="8.4" text-anchor="end" font-weight="normal" >R-empty</text>
<text transform="translate(486.70 89.00) rotate(-45)" font-size="8.2" text-anchor="end" font-weight="normal" >R-BCMA</text>
<defs>
<clipPath id="row0"><rect x="424.5" y="168.8" width="45.90" height="11.60"/></clipPath>
<clipPath id="row1"><rect x="424.5" y="182.4" width="45.90" height="13.40"/></clipPath>
<clipPath id="row2"><rect x="424.5" y="197.8" width="45.90" height="12.20"/></clipPath>
<clipPath id="row3"><rect x="424.5" y="211.4" width="45.90" height="12.80"/></clipPath>
<clipPath id="row4"><rect x="424.5" y="225.8" width="45.90" height="11.40"/></clipPath>
<clipPath id="row5"><rect x="424.5" y="238.3" width="45.90" height="10.50"/></clipPath>
<linearGradient id="rg0" x1="0" x2="1" y1="0" y2="0"><stop offset="0" stop-color="#e4e4e4"/><stop offset="0.5" stop-color="#d6d6d6"/><stop offset="1" stop-color="#c8c8c8"/></linearGradient>
<linearGradient id="rg3" x1="0" x2="1" y1="0" y2="0"><stop offset="0" stop-color="#f6f6f6"/><stop offset="0.5" stop-color="#ececec"/><stop offset="1" stop-color="#e2e2e2"/></linearGradient>
<linearGradient id="rg1" x1="0" x2="1" y1="0" y2="1"><stop offset="0" stop-color="#f2f2f2"/><stop offset="1" stop-color="#d8d8d8"/></linearGradient>
</defs>
<g filter="url(#b5)">
<rect x="424.50" y="248.80" width="45.90" height="4.80" fill="#f3f3f3" />
<g clip-path="url(#row0)">
<rect x="424.50" y="168.80" width="45.90" height="11.60" fill="url(#rg0)" />
<rect x="427.20" y="172.70" width="17.40" height="4.20" rx="2.10" fill="#000" opacity="1.0" filter="url(#b4)"/>
<rect x="426.40" y="171.05" width="19.00" height="7.50" rx="3.75" fill="#000" opacity="0.18" filter="url(#b2)"/>
<rect x="427.40" y="172.50" width="4.40" height="4.60" rx="2.20" fill="#000" opacity="0.7" filter="url(#b4)"/>
<rect x="440.00" y="172.50" width="4.40" height="4.60" rx="2.20" fill="#000" opacity="0.7" filter="url(#b4)"/>
<rect x="449.20" y="167.80" width="21.60" height="11.60" rx="5.80" fill="#000" opacity="1.0" filter="url(#b4)"/>
<rect x="450.70" y="167.60" width="18.60" height="6.00" rx="3.00" fill="#000" opacity="1.0" filter="url(#b4)"/>
</g>
<g clip-path="url(#row1)">
<rect x="424.50" y="182.40" width="45.90" height="13.40" fill="url(#rg1)" />
<rect x="426.60" y="187.90" width="18.00" height="5.40" rx="2.70" fill="#000" opacity="0.5" filter="url(#b2)"/>
<rect x="428.15" y="189.40" width="6.50" height="3.20" rx="1.60" fill="#000" opacity="0.55" filter="url(#b1)"/>
<rect x="436.60" y="188.50" width="6.00" height="3.00" rx="1.50" fill="#000" opacity="0.55" filter="url(#b1)"/>
<rect x="450.00" y="184.10" width="18.40" height="6.40" rx="3.20" fill="#000" opacity="1.0" filter="url(#b4)" transform="rotate(-7 459.2 187.3)"/>
<rect x="449.70" y="186.70" width="19.00" height="7.00" rx="3.50" fill="#000" opacity="0.25" filter="url(#b2)" transform="rotate(-7 459.2 190.2)"/>
</g>
<g clip-path="url(#row2)">
<rect x="424.50" y="197.80" width="45.90" height="12.20" fill="#b2b2b2" />
<rect x="445.90" y="197.00" width="3.00" height="14.00" rx="1.50" fill="#fff" opacity="0.35" filter="url(#b1)"/>
<rect x="426.45" y="200.00" width="17.50" height="8.40" rx="4.20" fill="#000" opacity="0.72" filter="url(#b2)"/>
<rect x="429.20" y="202.40" width="12.00" height="4.40" rx="2.20" fill="#000" opacity="0.5" filter="url(#b2)"/>
<rect x="449.40" y="198.40" width="20.00" height="9.60" rx="4.80" fill="#000" opacity="0.9" filter="url(#b2)"/>
<rect x="451.40" y="199.60" width="16.00" height="6.00" rx="3.00" fill="#000" opacity="0.8" filter="url(#b2)"/>
</g>
<g clip-path="url(#row3)">
<rect x="424.50" y="211.40" width="45.90" height="12.80" fill="url(#rg3)" />
<rect x="427.50" y="218.90" width="8.60" height="3.60" rx="1.80" fill="#000" opacity="0.72" filter="url(#b4)" transform="rotate(-8 431.8 220.7)"/>
<rect x="437.20" y="217.40" width="6.80" height="3.80" rx="1.90" fill="#000" opacity="0.78" filter="url(#b4)" transform="rotate(-4 440.6 219.3)"/>
<rect x="428.50" y="218.80" width="15.00" height="2.40" rx="1.20" fill="#000" opacity="0.5" filter="url(#b4)" transform="rotate(-8 436.0 220.0)"/>
<rect x="449.60" y="213.70" width="18.60" height="8.20" rx="4.10" fill="#000" opacity="1.0" filter="url(#b4)" transform="rotate(-6 458.9 217.8)"/>
</g>
<g clip-path="url(#row4)">
<rect x="424.50" y="225.80" width="45.90" height="11.40" fill="#e7e7e7" />
<rect x="426.15" y="228.80" width="18.50" height="3.80" rx="1.90" fill="#000" opacity="0.5" filter="url(#b2)"/>
<rect x="426.90" y="229.60" width="17.00" height="2.20" rx="1.10" fill="#000" opacity="0.3" filter="url(#b1)"/>
<rect x="449.30" y="227.90" width="19.00" height="6.60" rx="3.30" fill="#000" opacity="0.35" filter="url(#b2)"/>
<rect x="450.00" y="228.90" width="17.60" height="4.60" rx="2.30" fill="#000" opacity="1.0" filter="url(#b4)"/>
</g>
<g clip-path="url(#row5)">
<rect x="424.50" y="238.30" width="45.90" height="10.50" fill="#e4e4e4" />
<rect x="426.20" y="240.10" width="19.60" height="6.20" rx="3.10" fill="#000" opacity="1.0" filter="url(#b4)"/>
<rect x="435.00" y="240.60" width="10.00" height="6.00" rx="3.00" fill="#000" opacity="0.8" filter="url(#b4)"/>
<rect x="449.50" y="240.50" width="18.60" height="5.40" rx="2.70" fill="#000" opacity="1.0" filter="url(#b4)"/>
</g>
</g>
<text transform="translate(474.00 178.20)" font-size="9.4" text-anchor="start" font-weight="normal" >BCMA</text>
<text transform="translate(474.00 191.80)" font-size="9.4" text-anchor="start" font-weight="normal" >pAKT</text>
<text transform="translate(474.00 207.20)" font-size="9.4" text-anchor="start" font-weight="normal" >pMEK1/2</text>
<text transform="translate(474.00 222.20)" font-size="9.4" text-anchor="start" font-weight="normal" >MCL1</text>
<text transform="translate(474.00 234.20)" font-size="9.4" text-anchor="start" font-weight="normal" >p-p65</text>
<text transform="translate(474.00 246.20)" font-size="9.4" text-anchor="start" font-weight="normal" >GAPDH</text>
<text transform="translate(420.90 169.30) rotate(-27.5)" font-size="9.5" text-anchor="start" font-weight="normal" stroke="#000" stroke-width="0.6">R-empty</text>
<text transform="translate(450.80 168.00) rotate(-26)" font-size="9.5" text-anchor="start" font-weight="normal" stroke="#000" stroke-width="0.6">R-BCMA</text>
<line x1="49.70" y1="300.50" x2="49.70" y2="388.30" stroke="#000" stroke-width="1.3" />
<line x1="49.20" y1="388.30" x2="388.20" y2="388.30" stroke="#000" stroke-width="1.3" />
<line x1="46.90" y1="376.26" x2="49.70" y2="376.26" stroke="#000" stroke-width="1.3" />
<text transform="translate(43.90 379.26)" font-size="8.2" text-anchor="end" font-weight="normal" >10000</text>
<line x1="46.90" y1="364.22" x2="49.70" y2="364.22" stroke="#000" stroke-width="1.3" />
<text transform="translate(43.90 367.22)" font-size="8.2" text-anchor="end" font-weight="normal" >20000</text>
<line x1="46.90" y1="352.18" x2="49.70" y2="352.18" stroke="#000" stroke-width="1.3" />
<text transform="translate(43.90 355.18)" font-size="8.2" text-anchor="end" font-weight="normal" >30000</text>
<line x1="46.90" y1="340.14" x2="49.70" y2="340.14" stroke="#000" stroke-width="1.3" />
<text transform="translate(43.90 343.14)" font-size="8.2" text-anchor="end" font-weight="normal" >40000</text>
<line x1="46.90" y1="328.10" x2="49.70" y2="328.10" stroke="#000" stroke-width="1.3" />
<text transform="translate(43.90 331.10)" font-size="8.2" text-anchor="end" font-weight="normal" >50000</text>
<line x1="46.90" y1="316.06" x2="49.70" y2="316.06" stroke="#000" stroke-width="1.3" />
<text transform="translate(43.90 319.06)" font-size="8.2" text-anchor="end" font-weight="normal" >60000</text>
<line x1="46.90" y1="304.02" x2="49.70" y2="304.02" stroke="#000" stroke-width="1.3" />
<text transform="translate(43.90 307.02)" font-size="8.2" text-anchor="end" font-weight="normal" >70000</text>
<line x1="50.30" y1="388.30" x2="50.30" y2="391.10" stroke="#000" stroke-width="1.3" />
<rect x="52.60" y="383.20" width="3.50" height="5.10" fill="#b3b3b3" />
<rect x="56.10" y="373.00" width="3.70" height="15.30" fill="#000" />
<text transform="translate(59.20 394.20) rotate(-90)" font-size="8.2" text-anchor="end" font-weight="normal" >VGFR2</text>
<line x1="61.88" y1="388.30" x2="61.88" y2="391.10" stroke="#000" stroke-width="1.3" />
<rect x="64.17" y="387.60" width="3.50" height="0.70" fill="#cfcfcf" />
<rect x="67.67" y="386.40" width="3.70" height="1.90" fill="#000" />
<text transform="translate(70.78 394.20) rotate(-90)" font-size="8.2" text-anchor="end" font-weight="normal" >PKC<tspan font-size="6.6">γ</tspan></text>
<line x1="73.45" y1="388.30" x2="73.45" y2="391.10" stroke="#000" stroke-width="1.3" />
<rect x="75.75" y="386.00" width="3.50" height="2.30" fill="#b3b3b3" />
<rect x="79.25" y="381.60" width="3.70" height="6.70" fill="#000" />
<text transform="translate(82.35 394.20) rotate(-90)" font-size="8.2" text-anchor="end" font-weight="normal" >SHIP1</text>
<line x1="85.03" y1="388.30" x2="85.03" y2="391.10" stroke="#000" stroke-width="1.3" />
<rect x="87.33" y="387.20" width="3.50" height="1.10" fill="#cfcfcf" />
<rect x="90.83" y="384.40" width="3.70" height="3.90" fill="#000" />
<text transform="translate(93.93 394.20) rotate(-90)" font-size="8.2" text-anchor="end" font-weight="normal" >P38<tspan font-size="6.6">β</tspan>MAPK</text>
<line x1="96.60" y1="388.30" x2="96.60" y2="391.10" stroke="#000" stroke-width="1.3" />
<rect x="98.90" y="388.00" width="3.50" height="0.30" fill="#cfcfcf" />
<rect x="102.40" y="387.60" width="3.70" height="0.70" fill="#000" />
<text transform="translate(105.50 394.20) rotate(-90)" font-size="8.2" text-anchor="end" font-weight="normal" >MEK7</text>
<line x1="108.18" y1="388.30" x2="108.18" y2="391.10" stroke="#000" stroke-width="1.3" />
<rect x="110.48" y="383.60" width="3.50" height="4.70" fill="#b3b3b3" />
<rect x="113.98" y="377.00" width="3.70" height="11.30" fill="#000" />
<text transform="translate(117.08 394.20) rotate(-90)" font-size="8.2" text-anchor="end" font-weight="normal" >JNK3</text>
<line x1="119.75" y1="388.30" x2="119.75" y2="391.10" stroke="#000" stroke-width="1.3" />
<rect x="122.05" y="386.40" width="3.50" height="1.90" fill="#b3b3b3" />
<rect x="125.55" y="384.40" width="3.70" height="3.90" fill="#000" />
<text transform="translate(128.65 394.20) rotate(-90)" font-size="8.2" text-anchor="end" font-weight="normal" >SIK2</text>
<line x1="131.32" y1="388.30" x2="131.32" y2="391.10" stroke="#000" stroke-width="1.3" />
<rect x="133.62" y="384.40" width="3.50" height="3.90" fill="#b3b3b3" />
<rect x="137.12" y="379.40" width="3.70" height="8.90" fill="#000" />
<text transform="translate(140.22 394.20) rotate(-90)" font-size="8.2" text-anchor="end" font-weight="normal" >p38<tspan font-size="6.6">α</tspan>MAPK</text>
<line x1="142.90" y1="388.30" x2="142.90" y2="391.10" stroke="#000" stroke-width="1.3" />
<rect x="145.20" y="387.80" width="3.50" height="0.50" fill="#cfcfcf" />
<rect x="148.70" y="387.00" width="3.70" height="1.30" fill="#000" />
<text transform="translate(151.80 394.20) rotate(-90)" font-size="8.2" text-anchor="end" font-weight="normal" >PKC<tspan font-size="6.6">ε</tspan></text>
<line x1="154.47" y1="388.30" x2="154.47" y2="391.10" stroke="#000" stroke-width="1.3" />
<rect x="156.78" y="384.40" width="3.50" height="3.90" fill="#b3b3b3" />
<rect x="160.28" y="379.40" width="3.70" height="8.90" fill="#000" />
<text transform="translate(163.38 394.20) rotate(-90)" font-size="8.2" text-anchor="end" font-weight="normal" >Hsp27</text>
<line x1="166.05" y1="388.30" x2="166.05" y2="391.10" stroke="#000" stroke-width="1.3" />
<rect x="168.35" y="371.40" width="3.50" height="16.90" fill="#b3b3b3" />
<rect x="171.85" y="351.40" width="3.70" height="36.90" fill="#000" />
<text transform="translate(174.95 394.20) rotate(-90)" font-size="8.2" text-anchor="end" font-weight="normal" >pERK1/2</text>
<line x1="177.62" y1="388.30" x2="177.62" y2="391.10" stroke="#000" stroke-width="1.3" />
<rect x="179.93" y="375.40" width="3.50" height="12.90" fill="#b3b3b3" />
<rect x="183.43" y="362.00" width="3.70" height="26.30" fill="#000" />
<text transform="translate(186.53 394.20) rotate(-90)" font-size="8.2" text-anchor="end" font-weight="normal" >p38<tspan font-size="6.6">δ</tspan>MAPK</text>
<line x1="189.20" y1="388.30" x2="189.20" y2="391.10" stroke="#000" stroke-width="1.3" />
<rect x="191.50" y="387.60" width="3.50" height="0.70" fill="#cfcfcf" />
<rect x="195.00" y="386.00" width="3.70" height="2.30" fill="#000" />
<text transform="translate(198.10 394.20) rotate(-90)" font-size="8.2" text-anchor="end" font-weight="normal" >pERK1</text>
<line x1="200.78" y1="388.30" x2="200.78" y2="391.10" stroke="#000" stroke-width="1.3" />
<rect x="203.08" y="380.60" width="3.50" height="7.70" fill="#b3b3b3" />
<rect x="206.58" y="372.40" width="3.70" height="15.90" fill="#000" />
<text transform="translate(209.68 394.20) rotate(-90)" font-size="8.2" text-anchor="end" font-weight="normal" >CDC25B</text>
<line x1="212.35" y1="388.30" x2="212.35" y2="391.10" stroke="#000" stroke-width="1.3" />
<rect x="214.65" y="387.80" width="3.50" height="0.50" fill="#cfcfcf" />
<rect x="218.15" y="386.00" width="3.70" height="2.30" fill="#000" />
<text transform="translate(221.25 394.20) rotate(-90)" font-size="8.2" text-anchor="end" font-weight="normal" >AKT1</text>
<line x1="223.93" y1="388.30" x2="223.93" y2="391.10" stroke="#000" stroke-width="1.3" />
<rect x="226.23" y="381.40" width="3.50" height="6.90" fill="#b3b3b3" />
<rect x="229.73" y="374.60" width="3.70" height="13.70" fill="#000" />
<text transform="translate(232.83 394.20) rotate(-90)" font-size="8.2" text-anchor="end" font-weight="normal" >p38<tspan font-size="6.6">γ</tspan>MAPK</text>
<line x1="235.50" y1="388.30" x2="235.50" y2="391.10" stroke="#000" stroke-width="1.3" />
<rect x="237.80" y="387.80" width="3.50" height="0.50" fill="#cfcfcf" />
<rect x="241.30" y="386.00" width="3.70" height="2.30" fill="#000" />
<text transform="translate(244.40 394.20) rotate(-90)" font-size="8.2" text-anchor="end" font-weight="normal" >DUSP3</text>
<line x1="247.07" y1="388.30" x2="247.07" y2="391.10" stroke="#000" stroke-width="1.3" />
<rect x="249.38" y="385.60" width="3.50" height="2.70" fill="#b3b3b3" />
<rect x="252.88" y="382.60" width="3.70" height="5.70" fill="#000" />
<text transform="translate(255.97 394.20) rotate(-90)" font-size="8.2" text-anchor="end" font-weight="normal" >DUSP12</text>
<line x1="258.65" y1="388.30" x2="258.65" y2="391.10" stroke="#000" stroke-width="1.3" />
<rect x="260.95" y="386.20" width="3.50" height="2.10" fill="#b3b3b3" />
<rect x="264.45" y="384.00" width="3.70" height="4.30" fill="#000" />
<text transform="translate(267.55 394.20) rotate(-90)" font-size="8.2" text-anchor="end" font-weight="normal" >Hsp40</text>
<line x1="270.22" y1="388.30" x2="270.22" y2="391.10" stroke="#000" stroke-width="1.3" />
<rect x="272.52" y="382.00" width="3.50" height="6.30" fill="#b3b3b3" />
<rect x="276.02" y="377.00" width="3.70" height="11.30" fill="#000" />
<text transform="translate(279.12 394.20) rotate(-90)" font-size="8.2" text-anchor="end" font-weight="normal" >pFGFR3</text>
<line x1="281.80" y1="388.30" x2="281.80" y2="391.10" stroke="#000" stroke-width="1.3" />
<rect x="284.10" y="375.00" width="3.50" height="13.30" fill="#b3b3b3" />
<rect x="287.60" y="366.00" width="3.70" height="22.30" fill="#000" />
<text transform="translate(290.70 394.20) rotate(-90)" font-size="8.2" text-anchor="end" font-weight="normal" >DUSP1</text>
<line x1="293.38" y1="388.30" x2="293.38" y2="391.10" stroke="#000" stroke-width="1.3" />
<rect x="295.68" y="377.40" width="3.50" height="10.90" fill="#b3b3b3" />
<rect x="299.18" y="369.00" width="3.70" height="19.30" fill="#000" />
<text transform="translate(302.27 394.20) rotate(-90)" font-size="8.2" text-anchor="end" font-weight="normal" >p38<tspan font-size="6.6">β</tspan>MAPK</text>
<line x1="304.95" y1="388.30" x2="304.95" y2="391.10" stroke="#000" stroke-width="1.3" />
<rect x="307.25" y="382.00" width="3.50" height="6.30" fill="#b3b3b3" />
<rect x="310.75" y="376.60" width="3.70" height="11.70" fill="#000" />
<text transform="translate(313.85 394.20) rotate(-90)" font-size="8.2" text-anchor="end" font-weight="normal" >MEK5</text>
<line x1="316.52" y1="388.30" x2="316.52" y2="391.10" stroke="#000" stroke-width="1.3" />
<rect x="318.82" y="374.60" width="3.50" height="13.70" fill="#b3b3b3" />
<rect x="322.32" y="366.00" width="3.70" height="22.30" fill="#000" />
<text transform="translate(325.42 394.20) rotate(-90)" font-size="8.2" text-anchor="end" font-weight="normal" >MEK1</text>
<line x1="328.10" y1="388.30" x2="328.10" y2="391.10" stroke="#000" stroke-width="1.3" />
<rect x="330.40" y="341.60" width="3.50" height="46.70" fill="#b3b3b3" />
<rect x="333.90" y="304.00" width="3.70" height="84.30" fill="#000" />
<text transform="translate(337.00 394.20) rotate(-90)" font-size="8.2" text-anchor="end" font-weight="normal" >NEK2</text>
<line x1="339.68" y1="388.30" x2="339.68" y2="391.10" stroke="#000" stroke-width="1.3" />
<rect x="341.98" y="387.60" width="3.50" height="0.70" fill="#cfcfcf" />
<rect x="345.48" y="385.60" width="3.70" height="2.70" fill="#000" />
<text transform="translate(348.57 394.20) rotate(-90)" font-size="8.2" text-anchor="end" font-weight="normal" >I<tspan font-size="6.6">κ</tspan>B<tspan font-size="6.6">α</tspan></text>
<line x1="351.25" y1="388.30" x2="351.25" y2="391.10" stroke="#000" stroke-width="1.3" />
<rect x="353.55" y="387.80" width="3.50" height="0.50" fill="#cfcfcf" />
<rect x="357.05" y="386.00" width="3.70" height="2.30" fill="#000" />
<text transform="translate(360.15 394.20) rotate(-90)" font-size="8.2" text-anchor="end" font-weight="normal" >ACK1</text>
<line x1="362.82" y1="388.30" x2="362.82" y2="391.10" stroke="#000" stroke-width="1.3" />
<rect x="365.12" y="388.00" width="3.50" height="0.30" fill="#cfcfcf" />
<rect x="368.62" y="387.00" width="3.70" height="1.30" fill="#000" />
<text transform="translate(371.72 394.20) rotate(-90)" font-size="8.2" text-anchor="end" font-weight="normal" >VIM</text>
<line x1="374.40" y1="388.30" x2="374.40" y2="391.10" stroke="#000" stroke-width="1.3" />
<rect x="376.70" y="382.40" width="3.50" height="5.90" fill="#b3b3b3" />
<rect x="380.20" y="377.00" width="3.70" height="11.30" fill="#000" />
<text transform="translate(383.30 394.20) rotate(-90)" font-size="8.2" text-anchor="end" font-weight="normal" >FGFR2</text>
<line x1="385.97" y1="388.30" x2="385.97" y2="391.10" stroke="#000" stroke-width="1.3" />
<text transform="translate(15.20 352.80) rotate(-90)" font-size="8.6" text-anchor="start" font-weight="normal" >A.U.</text>
<rect x="58.80" y="301.80" width="4.00" height="4.20" fill="#b3b3b3" />
<rect x="58.70" y="313.20" width="4.60" height="5.20" fill="#000" />
<text transform="translate(65.70 306.50) scale(0.9781 1)" font-size="7.9" text-anchor="start" font-weight="normal" >Globally Normalized - R-empty</text>
<text transform="translate(65.70 318.50) scale(0.9736 1)" font-size="7.9" text-anchor="start" font-weight="normal" >Globally Normalized - R-BCMA</text>
<line x1="436.60" y1="312.40" x2="436.60" y2="391.10" stroke="#000" stroke-width="1.3" />
<line x1="433.00" y1="388.30" x2="507.60" y2="388.30" stroke="#000" stroke-width="1.3" />
<line x1="433.00" y1="388.30" x2="436.60" y2="388.30" stroke="#000" stroke-width="1.3" />
<line x1="433.60" y1="376.27" x2="436.60" y2="376.27" stroke="#000" stroke-width="1.3" />
<line x1="433.00" y1="364.24" x2="436.60" y2="364.24" stroke="#000" stroke-width="1.3" />
<line x1="433.60" y1="352.21" x2="436.60" y2="352.21" stroke="#000" stroke-width="1.3" />
<line x1="433.00" y1="340.18" x2="436.60" y2="340.18" stroke="#000" stroke-width="1.3" />
<line x1="433.60" y1="328.15" x2="436.60" y2="328.15" stroke="#000" stroke-width="1.3" />
<line x1="433.00" y1="316.12" x2="436.60" y2="316.12" stroke="#000" stroke-width="1.3" />
<text transform="translate(430.40 391.30)" font-size="8.4" text-anchor="end" font-weight="normal" >0</text>
<text transform="translate(430.40 367.24)" font-size="8.4" text-anchor="end" font-weight="normal" >0.6</text>
<text transform="translate(430.40 343.18)" font-size="8.4" text-anchor="end" font-weight="normal" >1.2</text>
<text transform="translate(430.40 319.12)" font-size="8.4" text-anchor="end" font-weight="normal" >1.8</text>
<line x1="459.40" y1="388.30" x2="459.40" y2="391.10" stroke="#000" stroke-width="1.3" />
<line x1="482.20" y1="388.30" x2="482.20" y2="391.10" stroke="#000" stroke-width="1.3" />
<line x1="505.00" y1="388.30" x2="505.00" y2="391.10" stroke="#000" stroke-width="1.3" />
<rect x="441.30" y="356.80" width="6.40" height="31.50" fill="#b3b3b3" />
<rect x="447.70" y="347.20" width="6.70" height="41.10" fill="#000" />
<line x1="444.50" y1="357.10" x2="444.50" y2="355.80" stroke="#2a2a2a" stroke-width="1.7" />
<line x1="451.00" y1="347.20" x2="451.00" y2="346.40" stroke="#000" stroke-width="1" />
<line x1="449.60" y1="346.40" x2="452.40" y2="346.40" stroke="#000" stroke-width="0.9" />
<text transform="translate(451.20 346.11)" font-size="8.2" text-anchor="middle" font-weight="bold" stroke="#000" stroke-width="0.35">*</text>
<rect x="464.10" y="358.80" width="6.40" height="29.50" fill="#b3b3b3" />
<rect x="470.50" y="345.20" width="6.70" height="43.10" fill="#000" />
<line x1="467.30" y1="359.10" x2="467.30" y2="357.80" stroke="#2a2a2a" stroke-width="1.7" />
<line x1="473.80" y1="345.20" x2="473.80" y2="344.40" stroke="#000" stroke-width="1" />
<line x1="472.40" y1="344.40" x2="475.20" y2="344.40" stroke="#000" stroke-width="0.9" />
<text transform="translate(474.00 344.11)" font-size="8.2" text-anchor="middle" font-weight="bold" stroke="#000" stroke-width="0.35">*</text>
<rect x="487.00" y="346.40" width="6.40" height="41.90" fill="#b3b3b3" />
<rect x="493.40" y="323.20" width="6.70" height="65.10" fill="#000" />
<line x1="490.20" y1="346.70" x2="490.20" y2="345.40" stroke="#2a2a2a" stroke-width="1.7" />
<line x1="496.70" y1="323.20" x2="496.70" y2="322.40" stroke="#000" stroke-width="1" />
<line x1="495.30" y1="322.40" x2="498.10" y2="322.40" stroke="#000" stroke-width="0.9" />
<text transform="translate(496.90 322.11)" font-size="8.2" text-anchor="middle" font-weight="bold" stroke="#000" stroke-width="0.35">**</text>
<text transform="translate(447.60 401.20)" font-size="8.4" text-anchor="middle" font-weight="normal" >p65</text>
<text transform="translate(470.60 401.20)" font-size="8.4" text-anchor="middle" font-weight="normal" >p52</text>
<text transform="translate(493.60 401.20)" font-size="8.4" text-anchor="middle" font-weight="normal" >p50</text>
<rect x="440.60" y="305.20" width="4.60" height="4.80" fill="#b3b3b3" />
<rect x="440.60" y="316.80" width="4.60" height="4.80" fill="#000" />
<text transform="translate(448.00 309.80)" font-size="7.6" text-anchor="start" font-weight="normal" >R-empty</text>
<text transform="translate(448.00 321.60)" font-size="7.6" text-anchor="start" font-weight="normal" >R-BCMA</text>
<text transform="translate(412.50 401.20) rotate(-90) scale(0.9316 1)" font-size="9.4" text-anchor="start" font-weight="normal" >NF<tspan font-size="7.6">κ</tspan>B DNA binding activity</text>
</svg></body></html>
